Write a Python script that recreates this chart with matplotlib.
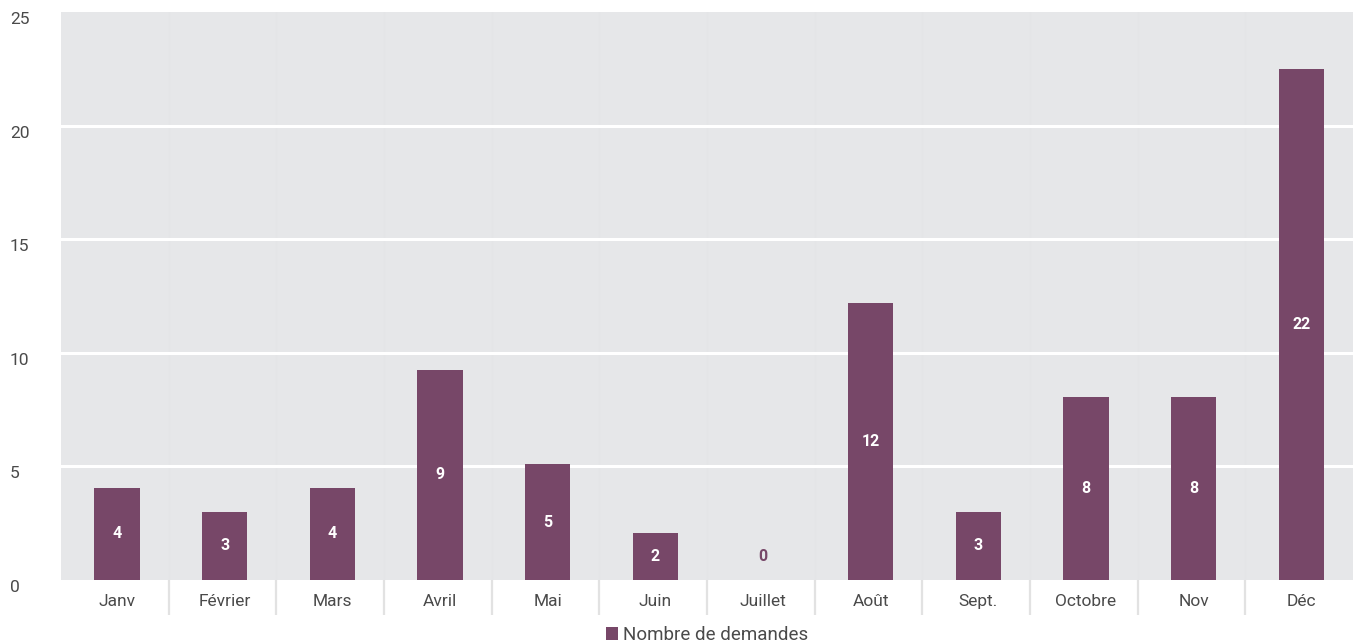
import matplotlib
matplotlib.use('Agg')
import matplotlib.pyplot as plt
import numpy as np

plt.rcParams['font.family'] = ['Roboto', 'DejaVu Sans']

# --- données ---
mois = ['Janv', 'Février', 'Mars', 'Avril', 'Mai', 'Juin', 'Juillet',
        'Août', 'Sept.', 'Octobre', 'Nov', 'Déc']
hauteurs = [4.05, 3.0, 4.05, 9.25, 5.1, 2.07, 0.0, 12.2, 3.0, 8.06, 8.06, 22.5]
etiquettes = [4, 3, 4, 9, 5, 2, 0, 12, 3, 8, 8, 22]
y_ticks = [0, 5, 10, 15, 20, 25]

violet = '#774768'
fond = '#e6e7e9'
texte = '#4a4a4a'

fig = plt.figure(figsize=(13.53, 6.44), dpi=100)
ax = fig.add_axes([61 / 1353, 64 / 644, 1 - 61 / 1353, 568 / 644])
ax.set_facecolor(fond)

x = np.arange(len(mois))
barres = ax.bar(x + 0.02, hauteurs, width=0.42, color=violet, zorder=3, label='Nombre de demandes')

# étiquettes au milieu des barres
for xi, h, lab in zip(x + 0.02, hauteurs, etiquettes):
    if h > 0:
        ax.text(xi, h / 2, str(lab), ha='center', va='center', color='white',
                fontsize=11.5, fontweight='bold', zorder=4)
    else:
        ax.annotate(str(lab), (xi, 0), xytext=(0, 17), textcoords='offset points',
                    ha='center', va='center', color=violet, fontsize=11.5,
                    fontweight='bold', zorder=4)

ax.set_xlim(-0.5, len(mois) - 0.5)
ax.set_ylim(0, 25)

# grille horizontale blanche
for yv in y_ticks[1:-1]:
    ax.axhline(yv, color='white', lw=2.2, zorder=1)
# séparations verticales très discrètes
for b in x[:-1] + 0.5:
    ax.axvline(b, color='#e4e5e7', lw=0.8, zorder=0.5)

for s in ax.spines.values():
    s.set_visible(False)

# axe y : libellés alignés à gauche, sous la ligne
ax.set_yticks(y_ticks)
ax.set_yticklabels([])
ax.tick_params(axis='y', length=0)
trans_y = matplotlib.transforms.blended_transform_factory(fig.transFigure, ax.transData)
for yv in y_ticks:
    ax.text(10 / 1353, yv, str(yv), transform=trans_y,
            ha='left', va='top', fontsize=12.5, color=texte)

# axe x
ax.set_xticks(x + 0.02)
ax.set_xticklabels(mois, fontsize=12.5, color=texte)
ax.tick_params(axis='x', which='major', length=0, pad=10)
ax.set_xticks(x[:-1] + 0.5, minor=True)
ax.tick_params(axis='x', which='minor', length=25, width=1.6, color='#e2e2e2', direction='out')

leg = ax.legend(loc='upper center', bbox_to_anchor=(0.5, -0.068), frameon=False,
                fontsize=13.5, handlelength=0.65, handleheight=0.65, handletextpad=0.3,
                borderaxespad=0)
for t in leg.get_texts():
    t.set_color(texte)

fig.savefig('out.png', dpi=100)
